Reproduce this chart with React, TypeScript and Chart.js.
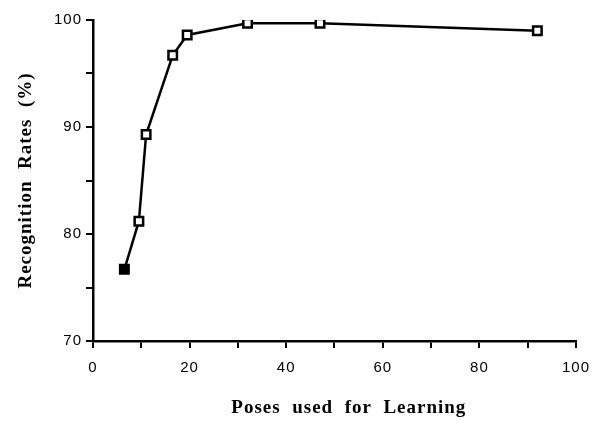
import React, { useEffect, useRef } from "react";
import { Chart, registerables } from "chart.js";

Chart.register(...registerables);

const poses = [6.5, 9.5, 11, 16.5, 19.5, 32, 47, 92];
const rates = [76.7, 81.2, 89.3, 96.7, 98.6, 99.7, 99.7, 99.0];
const markerFill = ["#000", "#fff", "#fff", "#fff", "#fff", "#fff", "#fff", "#fff"];
const xTitle = "\u00a0\u00a0\u00a0\u00a0\u00a0Poses  used  for  Learning";
const yTitle = "Recognition  Rates  (%)";

const spacingPlugin = {
  id: "spacing",
  beforeDraw: (chart: any) => {
    (chart.ctx as any).letterSpacing = "1px";
  },
  beforeUpdate: (chart: any) => {
    (chart.ctx as any).letterSpacing = "1px";
  },
};

export default function App() {
  const ref = useRef<HTMLCanvasElement>(null);
  useEffect(() => {
    document.body.style.margin = "0";
    const ctx = ref.current!;
    const tickFont = { family: "Liberation Sans", size: 15 };
    const titleFont = { family: "Liberation Serif", size: 19, weight: "bold" as const };
    const chart = new Chart(ctx, {
      type: "line",
      plugins: [spacingPlugin],
      data: {
        datasets: [
          {
            data: poses.map((p, i) => ({ x: p, y: rates[i] })),
            borderColor: "#000",
            borderWidth: 2.5,
            pointStyle: "rect",
            pointRadius: 6,
            pointBorderWidth: 2.5,
            pointBorderColor: "#000",
            pointBackgroundColor: markerFill,
            tension: 0,
          },
        ],
      },
      options: {
        responsive: false,
        animation: false,
        plugins: { legend: { display: false }, tooltip: { enabled: false } },
        layout: { padding: { top: 20, right: 25, left: 0, bottom: 0 } },
        scales: {
          x: {
            type: "linear",
            min: 0,
            max: 100,
            afterFit: (s: any) => {
              s.height = 83;
            },
            ticks: {
              stepSize: 10,
              autoSkip: false,
              maxRotation: 0,
              color: "#000",
              font: tickFont,
              padding: 11,
              callback: (v: any) => (Number(v) % 20 === 0 ? String(v) : ""),
            },
            grid: { drawOnChartArea: false, drawTicks: true, tickLength: 7, color: "#000", lineWidth: 2 },
            border: { display: true, color: "#000", width: 2.5 },
            title: { display: true, text: xTitle, color: "#000", font: titleFont, padding: { top: 0, bottom: 5 } },
          },
          y: {
            type: "linear",
            min: 70,
            max: 100,
            afterFit: (s: any) => {
              s.width = 93;
            },
            ticks: {
              stepSize: 5,
              autoSkip: false,
              color: "#000",
              font: tickFont,
              padding: 4,
              callback: (v: any) => (Number(v) % 10 === 0 ? String(v) : ""),
            },
            grid: { drawOnChartArea: false, drawTicks: true, tickLength: 7, color: "#000", lineWidth: 2 },
            border: { display: true, color: "#000", width: 2.5 },
            title: { display: true, text: yTitle, color: "#000", font: titleFont, padding: { top: 15, bottom: 0 } },
          },
        },
      },
    });
    return () => chart.destroy();
  }, []);
  return (
    <div style={{ position: "absolute", left: 0, top: 0, width: 601, height: 424, background: "#fff" }}>
      <canvas ref={ref} width={601} height={424} />
    </div>
  );
}
